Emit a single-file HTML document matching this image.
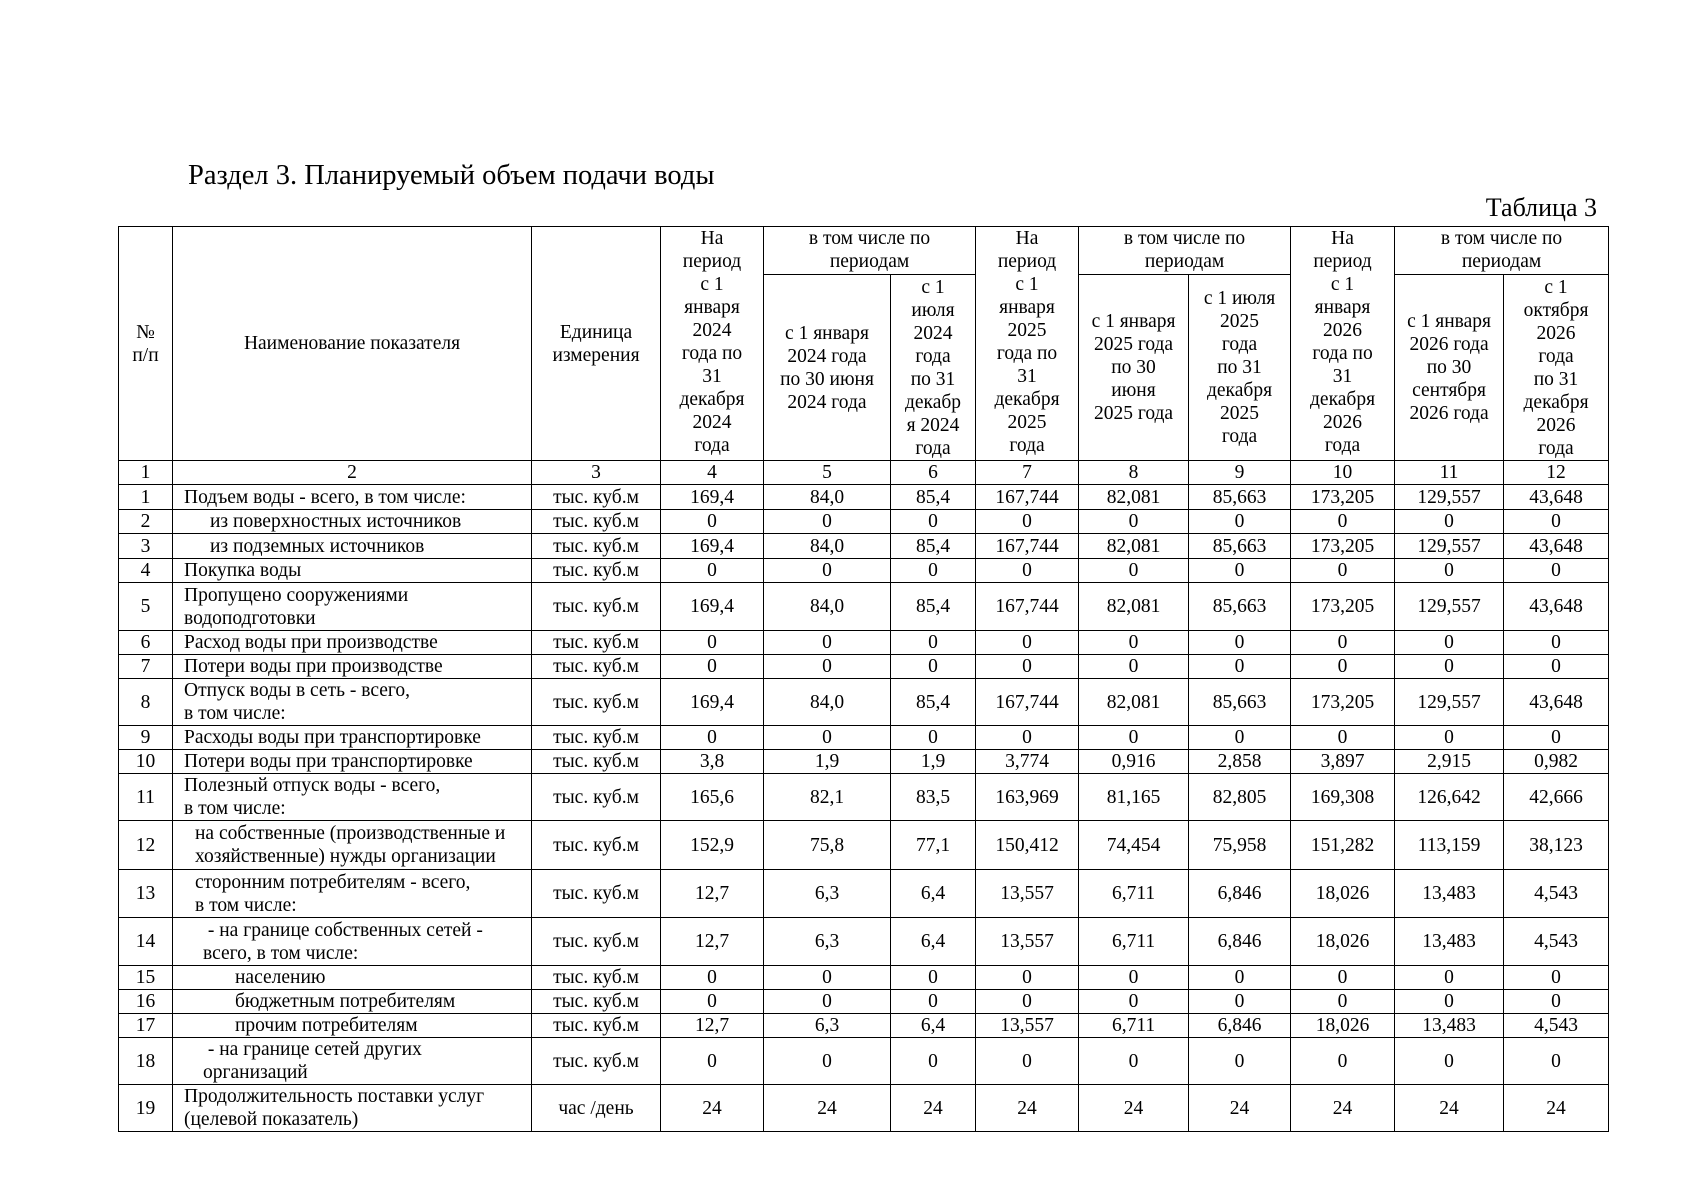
<!DOCTYPE html>
<html><head><meta charset="utf-8"><style>
body{margin:0;background:#fff;width:1697px;height:1200px;position:relative;overflow:hidden;font-family:"Liberation Serif","DejaVu Serif",serif;color:#000}
.t1{position:absolute;left:188px;top:160px;font-size:28.5px;white-space:nowrap}
.t2{position:absolute;right:100px;top:193px;font-size:26px;white-space:nowrap}
table{position:absolute;left:118px;top:226px;border-collapse:collapse;table-layout:fixed;width:1490px;font-size:19.5px}
td{border:1px solid #000;padding:0;text-align:center;vertical-align:middle;line-height:23px;overflow:hidden;white-space:nowrap}
td.l{text-align:left;padding-left:11px}
td.i1{text-align:left;padding-left:22px}
td.i2{text-align:left;padding-left:37px}
td.i3{text-align:left;padding-left:30px}
td.i4{text-align:left;padding-left:62px}
td.top{vertical-align:top}
</style></head><body>
<div class="t1">Раздел 3. Планируемый объем подачи воды</div>
<div class="t2">Таблица 3</div>
<table>
<colgroup><col style="width:54px"><col style="width:359px"><col style="width:129px"><col style="width:103px"><col style="width:127px"><col style="width:85px"><col style="width:103px"><col style="width:110px"><col style="width:102px"><col style="width:104px"><col style="width:109px"><col style="width:105px"></colgroup>
<tr style="height:48px">
<td rowspan="2">№<br>п/п</td>
<td rowspan="2">Наименование показателя</td>
<td rowspan="2">Единица<br>измерения</td>
<td rowspan="2" class="top">На<br>период<br>с 1<br>января<br>2024<br>года по<br>31<br>декабря<br>2024<br>года</td>
<td colspan="2" class="top">в том числе по<br>периодам</td>
<td rowspan="2" class="top">На<br>период<br>с 1<br>января<br>2025<br>года по<br>31<br>декабря<br>2025<br>года</td>
<td colspan="2" class="top">в том числе по<br>периодам</td>
<td rowspan="2" class="top">На<br>период<br>с 1<br>января<br>2026<br>года по<br>31<br>декабря<br>2026<br>года</td>
<td colspan="2" class="top">в том числе по<br>периодам</td>
</tr>
<tr style="height:186px">
<td>с 1 января<br>2024 года<br>по 30 июня<br>2024 года</td>
<td>с 1<br>июля<br>2024<br>года<br>по 31<br>декабр<br>я 2024<br>года</td>
<td>с 1 января<br>2025 года<br>по 30<br>июня<br>2025 года</td>
<td>с 1 июля<br>2025<br>года<br>по 31<br>декабря<br>2025<br>года</td>
<td>с 1 января<br>2026 года<br>по 30<br>сентября<br>2026 года</td>
<td>с 1<br>октября<br>2026<br>года<br>по 31<br>декабря<br>2026<br>года</td>
</tr>
<tr style="height:24px"><td>1</td><td>2</td><td>3</td><td>4</td><td>5</td><td>6</td><td>7</td><td>8</td><td>9</td><td>10</td><td>11</td><td>12</td></tr>
<tr style="height:25px"><td>1</td><td class="l">Подъем воды - всего, в том числе:</td><td>тыс. куб.м</td><td>169,4</td><td>84,0</td><td>85,4</td><td>167,744</td><td>82,081</td><td>85,663</td><td>173,205</td><td>129,557</td><td>43,648</td></tr>
<tr style="height:24px"><td>2</td><td class="i2">из поверхностных источников</td><td>тыс. куб.м</td><td>0</td><td>0</td><td>0</td><td>0</td><td>0</td><td>0</td><td>0</td><td>0</td><td>0</td></tr>
<tr style="height:25px"><td>3</td><td class="i2">из подземных источников</td><td>тыс. куб.м</td><td>169,4</td><td>84,0</td><td>85,4</td><td>167,744</td><td>82,081</td><td>85,663</td><td>173,205</td><td>129,557</td><td>43,648</td></tr>
<tr style="height:24px"><td>4</td><td class="l">Покупка воды</td><td>тыс. куб.м</td><td>0</td><td>0</td><td>0</td><td>0</td><td>0</td><td>0</td><td>0</td><td>0</td><td>0</td></tr>
<tr style="height:48px"><td>5</td><td class="l">Пропущено сооружениями<br>водоподготовки</td><td>тыс. куб.м</td><td>169,4</td><td>84,0</td><td>85,4</td><td>167,744</td><td>82,081</td><td>85,663</td><td>173,205</td><td>129,557</td><td>43,648</td></tr>
<tr style="height:24px"><td>6</td><td class="l">Расход воды при производстве</td><td>тыс. куб.м</td><td>0</td><td>0</td><td>0</td><td>0</td><td>0</td><td>0</td><td>0</td><td>0</td><td>0</td></tr>
<tr style="height:24px"><td>7</td><td class="l">Потери воды при производстве</td><td>тыс. куб.м</td><td>0</td><td>0</td><td>0</td><td>0</td><td>0</td><td>0</td><td>0</td><td>0</td><td>0</td></tr>
<tr style="height:46px"><td>8</td><td class="l">Отпуск воды в сеть - всего,<br>в том числе:</td><td>тыс. куб.м</td><td>169,4</td><td>84,0</td><td>85,4</td><td>167,744</td><td>82,081</td><td>85,663</td><td>173,205</td><td>129,557</td><td>43,648</td></tr>
<tr style="height:24px"><td>9</td><td class="l">Расходы воды при транспортировке</td><td>тыс. куб.м</td><td>0</td><td>0</td><td>0</td><td>0</td><td>0</td><td>0</td><td>0</td><td>0</td><td>0</td></tr>
<tr style="height:24px"><td>10</td><td class="l">Потери воды при транспортировке</td><td>тыс. куб.м</td><td>3,8</td><td>1,9</td><td>1,9</td><td>3,774</td><td>0,916</td><td>2,858</td><td>3,897</td><td>2,915</td><td>0,982</td></tr>
<tr style="height:47px"><td>11</td><td class="l">Полезный отпуск воды - всего,<br>в том числе:</td><td>тыс. куб.м</td><td>165,6</td><td>82,1</td><td>83,5</td><td>163,969</td><td>81,165</td><td>82,805</td><td>169,308</td><td>126,642</td><td>42,666</td></tr>
<tr style="height:49px"><td>12</td><td class="i1">на собственные (производственные и<br>хозяйственные) нужды организации</td><td>тыс. куб.м</td><td>152,9</td><td>75,8</td><td>77,1</td><td>150,412</td><td>74,454</td><td>75,958</td><td>151,282</td><td>113,159</td><td>38,123</td></tr>
<tr style="height:48px"><td>13</td><td class="i1">сторонним потребителям - всего,<br>в том числе:</td><td>тыс. куб.м</td><td>12,7</td><td>6,3</td><td>6,4</td><td>13,557</td><td>6,711</td><td>6,846</td><td>18,026</td><td>13,483</td><td>4,543</td></tr>
<tr style="height:48px"><td>14</td><td class="i3">&nbsp;- на границе собственных сетей -<br>всего, в том числе:</td><td>тыс. куб.м</td><td>12,7</td><td>6,3</td><td>6,4</td><td>13,557</td><td>6,711</td><td>6,846</td><td>18,026</td><td>13,483</td><td>4,543</td></tr>
<tr style="height:23px"><td>15</td><td class="i4">населению</td><td>тыс. куб.м</td><td>0</td><td>0</td><td>0</td><td>0</td><td>0</td><td>0</td><td>0</td><td>0</td><td>0</td></tr>
<tr style="height:24px"><td>16</td><td class="i4">бюджетным потребителям</td><td>тыс. куб.м</td><td>0</td><td>0</td><td>0</td><td>0</td><td>0</td><td>0</td><td>0</td><td>0</td><td>0</td></tr>
<tr style="height:24px"><td>17</td><td class="i4">прочим потребителям</td><td>тыс. куб.м</td><td>12,7</td><td>6,3</td><td>6,4</td><td>13,557</td><td>6,711</td><td>6,846</td><td>18,026</td><td>13,483</td><td>4,543</td></tr>
<tr style="height:47px"><td>18</td><td class="i3">&nbsp;- на границе сетей других<br>организаций</td><td>тыс. куб.м</td><td>0</td><td>0</td><td>0</td><td>0</td><td>0</td><td>0</td><td>0</td><td>0</td><td>0</td></tr>
<tr style="height:45px"><td>19</td><td class="l">Продолжительность поставки услуг<br>(целевой показатель)</td><td>час /день</td><td>24</td><td>24</td><td>24</td><td>24</td><td>24</td><td>24</td><td>24</td><td>24</td><td>24</td></tr>
</table>
</body></html>
